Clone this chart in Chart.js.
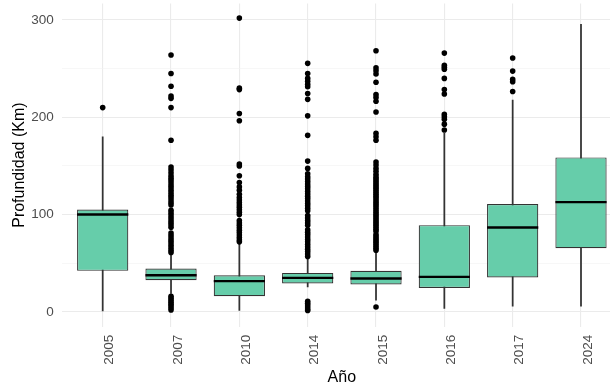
<!DOCTYPE html>
<html lang="es">
<head>
<meta charset="utf-8">
<title>Profundidad por año</title>
<script src="https://cdn.jsdelivr.net/npm/chart.js@4/dist/chart.umd.min.js"></script>
<style>
  html, body { margin: 0; padding: 0; background: #ffffff; overflow: hidden; }
  #wrap { width: 622px; height: 387px; }
</style>
</head>
<body>
<div id="wrap"><canvas id="chart" width="622" height="387"></canvas></div>
<script>
// Years shown on the x axis
const years = ['2005', '2007', '2010', '2014', '2015', '2016', '2017', '2024'];

// Box statistics (km)
const q1 = [42.2, 32.6, 16.1, 29.2, 28.2, 24.7, 35.4, 65.5];
const median = [100.2, 37.7, 31.6, 35.0, 34.4, 36.0, 86.8, 112.8];
const q3 = [105.3, 44.6, 37.7, 40.1, 42.2, 89.2, 110.8, 158.8];
const whiskerLow = [1.0, 18.9, 1.5, 25.7, 12.0, 3.5, 5.9, 5.9];
const whiskerHigh = [180.0, 59.3, 70.3, 54.9, 61.7, 183.5, 217.7, 295.6];

// Outlying depths per year
const out2005 = [210];
const out2007 = [264, 245, 232, 222, 219.5, 210, 176.5,
  149, 146, 143, 140, 137.5, 135, 132.5, 130, 127.5, 125, 122.5, 120, 117.5, 115, 112.5, 110,
  104.5, 102, 99.5, 97, 94.5, 92, 89.5, 87, 81, 78.5, 76, 73.5, 71, 68.5, 66, 63.5, 61,
  16, 14, 12, 10, 8, 6, 4, 2];
const out2010 = [302, 230, 228.5, 204, 196.5, 152, 150, 140,
  133, 128.5, 125, 121, 117.5, 115, 112.5, 110, 107.5, 105, 102.5, 100,
  94, 91.5, 89, 86.5, 84, 81.5, 79, 76.5, 74, 72];
const out2014 = [255.5, 245, 240, 237, 234, 231.5, 224.5, 218.5, 201.5, 181.5, 155, 147.5,
  142, 139, 136.5, 134, 131.5, 129, 126.5, 124, 121.5, 119, 116.5, 114, 111.5, 109, 106.5, 104,
  99, 96.5, 94, 91.5, 89, 84.5, 82, 79.5, 77, 74.5, 72, 69.5, 67, 64.5, 62, 59.5, 57,
  11, 9, 7, 5, 3, 1.5];
const out2015 = [268.5, 251, 248, 244.5, 236, 223.5, 220.5, 216.5, 205.5, 183.5, 180, 176.5,
  154, 151, 147.5, 144.5, 141.5,
  139, 137, 135, 133, 131, 129, 127, 125, 123, 121, 119, 117, 115, 113, 111, 109, 107, 105,
  103, 101, 99, 97, 95, 93, 91, 89, 87, 85, 83, 79.5, 77.5, 75.5, 73.5, 71.5, 69.5, 67.5,
  65.5, 63.5, 5];
const out2016 = [266, 253.5, 251.5, 249.5, 240, 228.5, 224, 203, 200.5, 198, 193, 187];
const out2017 = [261, 247.5, 239, 236.5, 226.5];
const out2024 = [];

const outliersByYear = [out2005, out2007, out2010, out2014, out2015, out2016, out2017, out2024];

// Axis ticks
const yTickValues = [0, 100, 200, 300];

// Build plot records from the arrays above
const boxData = years.map((_, i) => ({ x: i + 1, y: [q1[i], q3[i]] }));
const whiskerData = years.map((_, i) => ({ x: i + 1, y: [whiskerLow[i], whiskerHigh[i]] }));
const medianData = years.map((_, i) => ({ x: i + 1, y: median[i] }));
const outlierData = [];
outliersByYear.forEach((list, i) => list.forEach(v => outlierData.push({ x: i + 1, y: v })));

const tickFont = { family: '"Liberation Sans", Arial, sans-serif', size: 13.5 };
const titleFont = { family: '"Liberation Sans", Arial, sans-serif', size: 16 };

// Scale edge padding is not needed: the panel runs to the canvas edges
function noEdgePadding(scale) {
  scale.paddingTop = 0;
  scale.paddingBottom = 0;
  scale.paddingLeft = 0;
  scale.paddingRight = 0;
}

new Chart(document.getElementById('chart'), {
  type: 'bar',
  data: {
    datasets: [
      {
        label: 'outliers',
        type: 'scatter',
        data: outlierData,
        backgroundColor: '#000000',
        borderWidth: 0,
        pointRadius: 2.8,
        pointHoverRadius: 2.8,
        order: 0
      },
      {
        label: 'median',
        type: 'scatter',
        data: medianData,
        pointStyle: 'line',
        pointRadius: 25.6,
        pointHoverRadius: 25.6,
        borderColor: '#000000',
        borderWidth: 2.4,
        order: 1
      },
      {
        label: 'box',
        data: boxData,
        backgroundColor: '#66CDAA',
        borderColor: '#333333',
        borderWidth: 1.2,
        borderSkipped: false,
        grouped: false,
        categoryPercentage: 1,
        barPercentage: 0.75,
        order: 2
      },
      {
        label: 'whisker',
        data: whiskerData,
        backgroundColor: '#333333',
        borderWidth: 0,
        grouped: false,
        categoryPercentage: 1,
        barPercentage: 1,
        maxBarThickness: 1.1,
        order: 3
      }
    ]
  },
  options: {
    responsive: false,
    animation: false,
    events: [],
    layout: { autoPadding: false, padding: { left: 9.5, top: 3.5, right: 0, bottom: 0 } },
    plugins: {
      legend: { display: false },
      tooltip: { enabled: false }
    },
    scales: {
      x: {
        type: 'linear',
        min: 0.4,
        max: 8.6,
        offset: false,
        afterFit: (scale) => { scale.height = 60.3; noEdgePadding(scale); },
        border: { display: false },
        grid: {
          offset: false,
          drawTicks: false,
          color: '#EBEBEB',
          lineWidth: 1.1
        },
        ticks: {
          stepSize: 1,
          includeBounds: false,
          autoSkip: false,
          minRotation: 90,
          maxRotation: 90,
          padding: 8,
          labelOffset: 7,
          color: '#4D4D4D',
          font: tickFont,
          callback: (v) => years[v - 1]
        },
        title: {
          display: true,
          text: 'Año',
          color: '#000000',
          font: titleFont,
          padding: { top: 0, bottom: 0 }
        }
      },
      y: {
        min: -15.2,
        max: 317,
        afterFit: (scale) => { scale.width = 52.2; noEdgePadding(scale); },
        border: { display: false },
        grid: {
          drawTicks: false,
          color: (ctx) => (ctx.tick && yTickValues.includes(ctx.tick.value)) ? '#EBEBEB' : '#F2F2F2',
          lineWidth: (ctx) => (ctx.tick && yTickValues.includes(ctx.tick.value)) ? 1.1 : 0.6
        },
        ticks: {
          stepSize: 50,
          includeBounds: false,
          padding: 8,
          color: '#4D4D4D',
          font: tickFont,
          callback: (v) => yTickValues.includes(v) ? String(v) : ''
        },
        title: {
          display: true,
          text: 'Profundidad (Km)',
          color: '#000000',
          font: titleFont,
          padding: { top: 0, bottom: 0 }
        }
      }
    }
  }
});
</script>
</body>
</html>
